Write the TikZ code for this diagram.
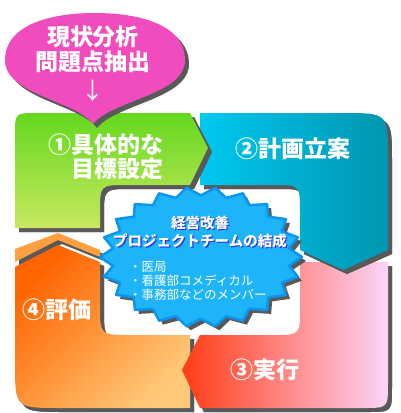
\documentclass[tikz,border=0pt]{standalone}
\usepackage{fontspec}
\newfontfamily\cjk{Noto Sans CJK JP}
\usetikzlibrary{positioning}

\definecolor{bubblepink}{HTML}{F04CBE}
\definecolor{greentop}{HTML}{64D81E}
\definecolor{greenbot}{HTML}{C8E860}
\definecolor{tealleft}{HTML}{00C8F0}
\definecolor{tealright}{HTML}{0096B0}
\definecolor{pinkleft}{HTML}{FF3C14}
\definecolor{pinkmid}{HTML}{FF96A5}
\definecolor{pinkright}{HTML}{FCD4F8}
\definecolor{orangedark}{HTML}{FF6400}
\definecolor{orangelight}{HTML}{FFC878}
\definecolor{orangestrip}{HTML}{FFA040}
\definecolor{burstfill}{HTML}{1EB4FA}
\definecolor{burstline}{HTML}{0A96F0}
\definecolor{headblue}{HTML}{2828E6}

\begin{document}
\begin{tikzpicture}[x=1pt,y=-1pt,join=round]
    \tikzstyle{shade} = [preaction={fill=black!65,transform canvas={shift={(4pt,-4pt)}}}]
    \tikzstyle{lbl} = [text=white,font=\cjk\bfseries\fontsize{23}{24}\selectfont,inner sep=0pt]
    \tikzstyle{head} = [font=\cjk\bfseries\fontsize{14.5}{18}\selectfont,inner sep=0pt]
    \tikzstyle{memb} = [text=white,font=\cjk\fontsize{12.5}{14}\selectfont,inner sep=0pt,align=left]

    \useasboundingbox[fill=white] (0,0) rectangle (400,413);

    % Four arrows of the cycle
    \fill[shade,orangestrip] (15,249)--(58,233)--(100,250)--(100,257)--(58,240)--(15,262)--cycle;
    \shade[shade,top color=orangedark,bottom color=orangelight,shading angle=45]
        (15,267)--(58,245)--(100,262)--(100,305) .. controls (100,335) .. (130,335)
        --(190,335)--(190,408)--(60,408) .. controls (15,408) .. (15,363)--cycle;
    \shade[shade,left color=pinkleft,middle color=pinkmid,right color=pinkright]
        (300,262)--(388,262)--(388,383) .. controls (388,408) .. (363,408)
        --(200,408)--(182,370)--(200,335)--(273,335) .. controls (300,335) .. (300,308)--cycle;
    \shade[shade,left color=tealleft,right color=tealright]
        (200,113)--(343,113) .. controls (388,113) .. (388,158)--(388,250)--(343,270)
        --(300,250)--(300,212) .. controls (300,185) .. (273,185)--(200,185)--cycle;
    \shade[shade,top color=greentop,bottom color=greenbot]
        (15,228)--(15,135) .. controls (15,113) .. (37,113)--(190,113)--(208,148)
        --(190,185)--(127,185) .. controls (100,185) .. (100,212)--(100,228)--cycle;

    % Speech bubble
    \fill[shade,bubblepink] (93,124) .. controls (75,100) and (5,95) .. (5,60)
        .. controls (5,25) and (50,13) .. (95,13) .. controls (140,13) and (185,25) .. (185,60)
        .. controls (185,95) and (112,100) .. (93,124);

    % Starburst in the middle
    \filldraw[shade,fill=burstfill,draw=burstline,line width=2.5pt]
        (302,257) \foreach \i in {1,...,43} {
            --({201+101*(1-0.12*mod(\i,2))*cos(\i*360/44)},{257+70*(1-0.12*mod(\i,2))*sin(\i*360/44)})
        } -- cycle;

    \node[lbl] (bub1) at (93,37) {現状分析};
    \node[lbl,below=2pt of bub1] (bub2) {問題点抽出};
    \node[lbl,font=\cjk\fontsize{23}{24}\selectfont] (bub3) at (93,91) {↓};

    \node[lbl,align=right] (step1) at (106,157) {①具体的な\\目標設定};
    \node[lbl] (step2) at (293,149) {②計画立案};
    \node[lbl] (step3) at (265,370) {③実行};
    \node[lbl] (step4) at (57,310) {④評価};

    \node[head,text=headblue,align=center] (teamsh) at (201.2,233.2) {経営改善\\プロジェクトチームの結成};
    \node[head,text=white,align=center] (team) at (200,232) {経営改善\\プロジェクトチームの結成};
    \node[memb,anchor=north west] (member) at (129,261) {・医局\\・看護部コメディカル\\・事務部などのメンバー};
\end{tikzpicture}
\end{document}
